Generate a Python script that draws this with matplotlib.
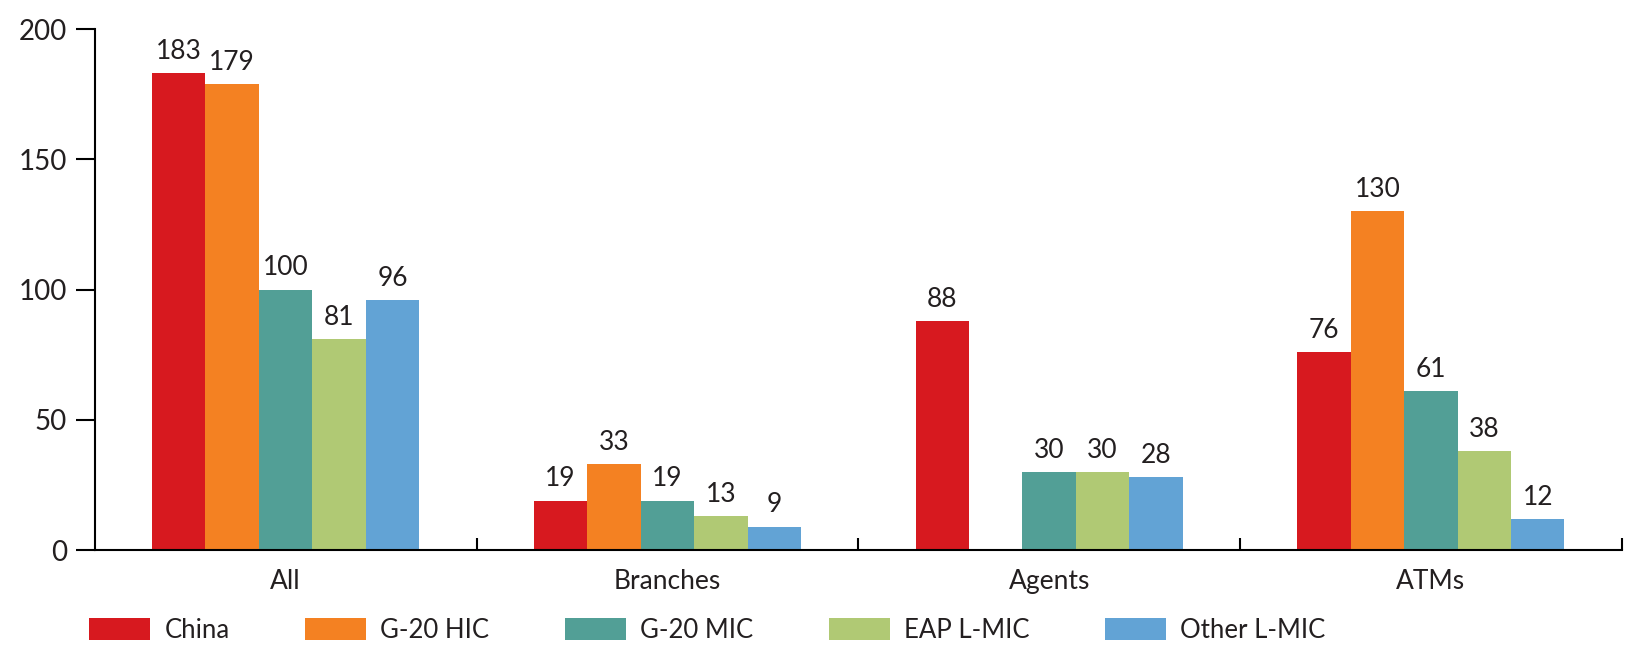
import numpy as np
import matplotlib
matplotlib.use('Agg')
import matplotlib.pyplot as plt

plt.rcParams['font.family'] = ['Lato', 'DejaVu Sans']

categories = ['All', 'Branches', 'Agents', 'ATMs']
series = ['China', 'G-20 HIC', 'G-20 MIC', 'EAP L-MIC', 'Other L-MIC']
values = {
    'China':       [183, 19, 88, 76],
    'G-20 HIC':    [179, 33, np.nan, 130],
    'G-20 MIC':    [100, 19, 30, 61],
    'EAP L-MIC':   [81, 13, 30, 38],
    'Other L-MIC': [96, 9, 28, 12],
}
colors = ['#D7191F', '#F48122', '#529F96', '#B0C974', '#62A3D5']
text_color = '#231F20'

fig = plt.figure(figsize=(16.34, 6.46), dpi=100)
ax = fig.add_axes([0.058, 0.1486, 0.9345, 0.8064])

x = np.arange(len(categories))
w = 0.14
for i, (name, col) in enumerate(zip(series, colors)):
    vals = np.array(values[name], dtype=float)
    pos = x + (i - 2) * w
    ax.bar(pos, np.nan_to_num(vals), w, color=col, label=name, linewidth=0)
    for p, v in zip(pos, vals):
        if not np.isnan(v):
            ax.text(p, v + 3.5, f'{v:.0f}', ha='center', va='bottom',
                    fontsize=19, color=text_color)

ax.set_xlim(-0.5, 3.5)
ax.set_ylim(0, 200)
ax.set_yticks([0, 50, 100, 150, 200])
ax.tick_params(axis='y', direction='out', length=14, width=1.5,
               labelsize=20, labelcolor=text_color, pad=6)
ax.set_xticks(x)
ax.set_xticklabels(categories)
ax.tick_params(axis='x', which='major', length=0, labelsize=19,
               labelcolor=text_color, pad=14)
ax.set_xticks([0.5, 1.5, 2.5, 3.5], minor=True)
ax.tick_params(axis='x', which='minor', direction='in', length=9, width=1.5)

for s in ['top', 'right']:
    ax.spines[s].set_visible(False)
for s in ['left', 'bottom']:
    ax.spines[s].set_linewidth(1.5)

leg = fig.legend(loc='center left', bbox_to_anchor=(0.0405, 0.024), ncol=5,
                 frameon=False, fontsize=18.5, handlelength=2.37, handleheight=0.9,
                 columnspacing=2.95, handletextpad=0.55)
for t in leg.get_texts():
    t.set_color(text_color)

plt.savefig('out.png', dpi=100)
